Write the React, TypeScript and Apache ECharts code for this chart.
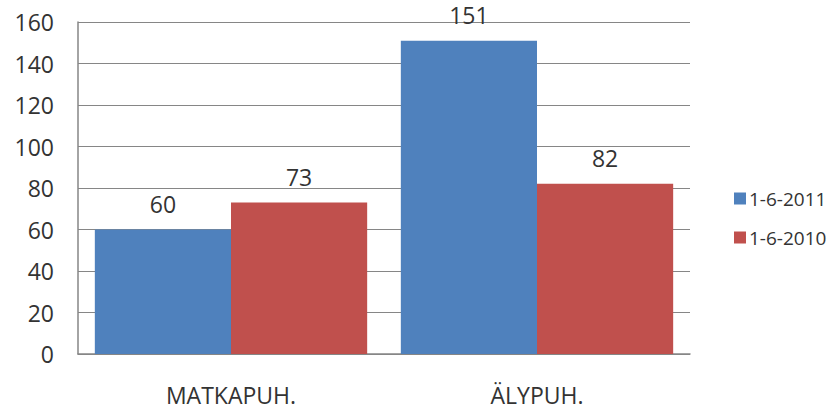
import React, { useEffect, useRef } from "react";
import * as echarts from "echarts";

const categories = ["MATKAPUH.", "ÄLYPUH."];
const series2011 = [60, 151];
const series2010 = [73, 82];
const seriesNames = ["1-6-2011", "1-6-2010"];
const colors = ["#4F81BD", "#C0504D"];

const FONT = "'Open Sans', 'Liberation Sans', sans-serif";

export default function App() {
  const ref = useRef<HTMLDivElement>(null);
  useEffect(() => {
    if (!ref.current) return;
    const chart = echarts.init(ref.current, null, { renderer: "svg" });
    chart.setOption({
      animation: false,
      backgroundColor: "#ffffff",
      textStyle: { fontFamily: FONT },
      grid: { left: 78, right: 142, top: 22, bottom: 57, containLabel: false },
      legend: {
        orient: "vertical",
        left: 729,
        top: 184,
        itemWidth: 12,
        itemHeight: 12,
        itemGap: 20,
        icon: "rect",
        textStyle: { fontFamily: FONT, fontSize: 19, color: "#333333", padding: [0, 0, 0, -2] },
        data: seriesNames,
      },
      xAxis: {
        type: "category",
        data: categories,
        axisLine: { lineStyle: { color: "#868686", width: 1.5 } },
        axisTick: { show: false },
        axisLabel: { fontFamily: FONT, fontSize: 23, color: "#333333", margin: 29 },
      },
      yAxis: {
        type: "value",
        min: 0,
        max: 160,
        interval: 20,
        axisLine: { show: true, lineStyle: { color: "#868686", width: 1.5 } },
        axisTick: { show: false },
        splitLine: { lineStyle: { color: "#868686", width: 1 } },
        axisLabel: { fontFamily: FONT, fontSize: 23, color: "#333333", margin: 24 },
      },
      series: [
        {
          name: seriesNames[0],
          type: "bar",
          data: series2011,
          itemStyle: { color: colors[0] },
          barGap: "0%",
          barCategoryGap: "11%",
          label: { show: true, position: "top", distance: 14, fontFamily: FONT, fontSize: 23, color: "#333333" },
        },
        {
          name: seriesNames[1],
          type: "bar",
          data: series2010,
          itemStyle: { color: colors[1] },
          barGap: "0%",
          barCategoryGap: "11%",
          label: { show: true, position: "top", distance: 14, fontFamily: FONT, fontSize: 23, color: "#333333" },
        },
      ],
    });
    return () => chart.dispose();
  }, []);
  return (
    <div
      ref={ref}
      style={{ position: "absolute", left: 0, top: 0, width: 832, height: 411 }}
    />
  );
}
